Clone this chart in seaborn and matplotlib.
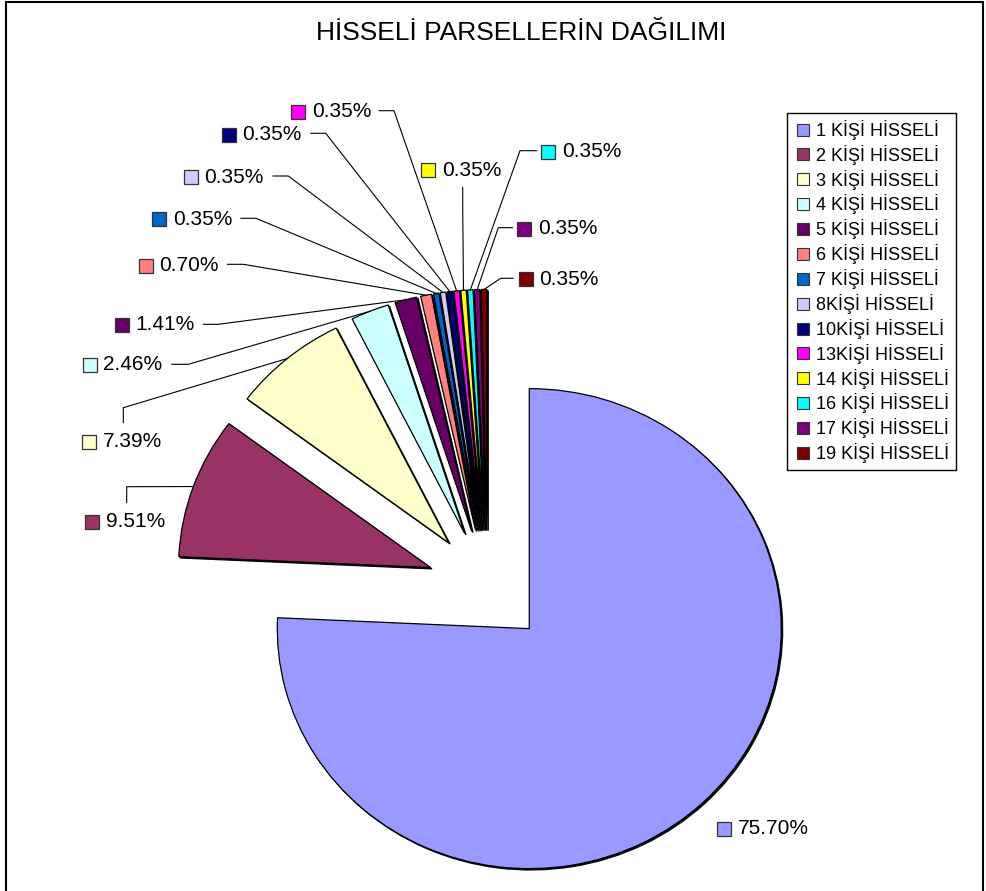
import matplotlib
matplotlib.use("Agg")
import matplotlib.pyplot as plt
import seaborn as sns
from matplotlib.lines import Line2D
from matplotlib.patches import Rectangle
import numpy as np

# ---------------- data ----------------
categories = ["1 KİŞİ HİSSELİ", "2 KİŞİ HİSSELİ", "3 KİŞİ HİSSELİ", "4 KİŞİ HİSSELİ",
              "5 KİŞİ HİSSELİ", "6 KİŞİ HİSSELİ", "7 KİŞİ HİSSELİ", "8KİŞİ HİSSELİ",
              "10KİŞİ HİSSELİ", "13KİŞİ HİSSELİ", "14 KİŞİ HİSSELİ", "16 KİŞİ HİSSELİ",
              "17 KİŞİ HİSSELİ", "19 KİŞİ HİSSELİ"]
shares = [75.70, 9.51, 7.39, 2.46, 1.41, 0.70, 0.35, 0.35, 0.35, 0.35, 0.35, 0.35, 0.35, 0.35]
slice_colors = ["#9999FF", "#993366", "#FFFFCC", "#CCFFFF", "#660066", "#FF8080", "#0066CC",
                "#CCCCFF", "#000080", "#FF00FF", "#FFFF00", "#00FFFF", "#800080", "#800000"]
title_text = "HİSSELİ PARSELLERİN DAĞILIMI"

# ---------------- layout (pixels) ----------------
W, H = 987, 891
CX, CY, RX, RY = 487.5, 587.0, 252.0, 240.0
EXPLODE = 0.24

label_marker_px = [(724, 829), (92.3, 521.7), (89.3, 441.7), (90, 365), (122, 325),
                   (146, 265.7), (159.3, 219.3), (191, 177.3), (229, 135), (298.3, 111.7),
                   (428.3, 170), (548.3, 151.7), (524.3, 229), (525.7, 279.3)]
leader_px = [None,
             ((126.7, 502.7), (126.7, 486.7)),
             ((123.3, 422.7), (123.3, 407.7)),
             ((171.7, 364.3), (188.3, 364.3)),
             ((203.3, 324.3), (218.3, 324.3)),
             ((227.3, 264.3), (243.3, 264.3)),
             ((240.7, 218.3), (256.0, 218.3)),
             ((272.7, 176.0), (288.3, 176.0)),
             ((310.7, 133.3), (325.7, 133.3)),
             ((379.0, 110.7), (394.0, 110.7)),
             ((462.7, 187.3), (462.7, 205.0)),
             ((536.7, 150.7), (520.0, 150.7)),
             ((512.7, 227.7), (498.3, 227.7)),
             ((513.3, 278.3), (500.7, 278.3))]


def px(x, y):
    return ((x - CX) / RX, (CY - y) / RY)


sns.set_theme(style="white")
plt.rcParams["font.family"] = ["Liberation Sans", "DejaVu Sans"]
plt.rcParams["text.color"] = "black"

fig = plt.figure(figsize=(W / 100, H / 100), dpi=100)
fig.patch.set_facecolor("white")
ax = fig.add_axes([0, 0, 1, 1])

palette = sns.color_palette(slice_colors)
wedges, _ = ax.pie(shares, colors=palette, startangle=90, counterclock=False,
                   explode=[EXPLODE] * len(shares),
                   wedgeprops=dict(edgecolor="black", linewidth=0.9),
                   shadow=dict(ox=0.004, oy=-0.004, shade=0.95, alpha=1.0))

ax.set_aspect("auto")
ax.set_xlim(-CX / RX, (W - CX) / RX)
ax.set_ylim((CY - H) / RY, CY / RY)
ax.axis("off")

# data labels with leader lines
for i, (w, v) in enumerate(zip(wedges, shares)):
    mx, my = label_marker_px[i]
    x0, y0 = px(mx, my)
    ax.plot([x0], [y0], marker="s", markersize=9.4, markerfacecolor=slice_colors[i],
            markeredgecolor="#333333", markeredgewidth=0.9, linestyle="", zorder=5)
    tx, ty = px(mx + 13.5, my)
    ax.text(tx, ty, f"{v:.2f}%", fontsize=15, va="center", ha="left", color="black", zorder=5)
    if leader_px[i] is not None:
        (sx, sy), (ex, ey) = leader_px[i]
        mid = np.deg2rad((w.theta1 + w.theta2) / 2)
        ax_, ay_ = w.center[0] + w.r * np.cos(mid), w.center[1] + w.r * np.sin(mid)
        p1, p2 = px(sx, sy), px(ex, ey)
        ax.plot([p1[0], p2[0], ax_], [p1[1], p2[1], ay_], color="black", lw=0.8, zorder=4)

# title
ax.text(*px(521, 33), title_text, fontsize=19, fontweight="normal", ha="center",
        va="center", color="black")

# legend
handles = [Line2D([], [], marker="s", linestyle="", markersize=8.6, markerfacecolor=c,
                  markeredgecolor="#333333", markeredgewidth=0.8) for c in slice_colors]
leg = ax.legend(handles, categories, loc="upper left",
                bbox_to_anchor=(787 / W, 1 - 113 / H), bbox_transform=fig.transFigure,
                borderaxespad=0, frameon=True, fancybox=False, edgecolor="black",
                framealpha=1, fontsize=13, handlelength=1.0, handletextpad=0.25,
                labelspacing=0.27, borderpad=0.38, labelcolor="black")
leg.get_frame().set_linewidth(1.0)

# chart border
fig.patches.append(Rectangle((6 / W, -0.05), (983 - 6) / W, 1.05 - 2 / H,
                             transform=fig.transFigure, fill=False, edgecolor="black",
                             linewidth=1.5))

fig.savefig("out.png", dpi=100)
